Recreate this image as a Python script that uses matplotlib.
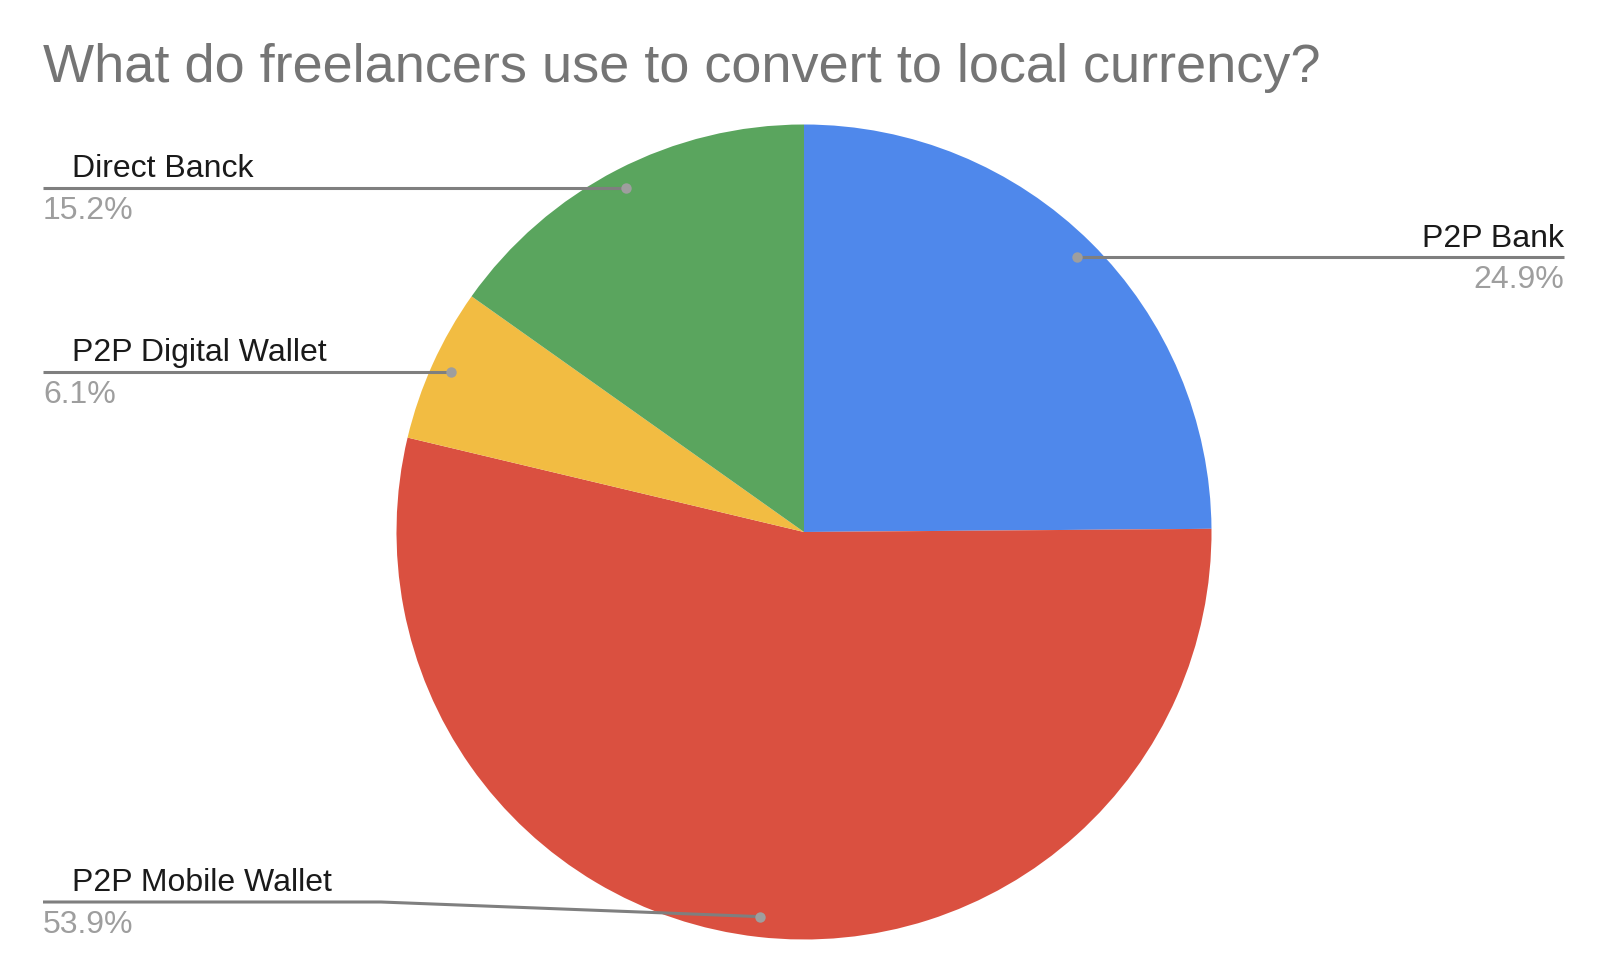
import numpy as np
import matplotlib
matplotlib.use("Agg")
import matplotlib.pyplot as plt

# Survey shares, in clockwise order starting from 12 o'clock
categories = ["P2P Bank", "P2P Mobile Wallet", "P2P Digital Wallet", "Direct Banck"]
shares = [24.9, 53.9, 6.1, 15.2]
pct_labels = ["24.9%", "53.9%", "6.1%", "15.2%"]
colors = ["#4F88EB", "#DA5040", "#F2BC42", "#5AA55E"]

title = "What do freelancers use to convert to local currency?"

W, H = 1606, 980
plt.rcParams["font.family"] = ["Liberation Sans", "DejaVu Sans"]

fig = plt.figure(figsize=(W / 100, H / 100), dpi=100)
ax = fig.add_axes([0, 0, 1, 1])
ax.set_xlim(0, W)
ax.set_ylim(0, H)
ax.set_aspect("equal")
ax.axis("off")

cx, cy, R = 804, H - 532, 407.5
wedges, _ = ax.pie(shares, colors=colors, startangle=90, counterclock=False,
                   center=(cx, cy), radius=R, frame=True,
                   wedgeprops=dict(linewidth=0))
ax.set_xlim(0, W)
ax.set_ylim(0, H)
ax.axis("off")

fig.text(43 / W, 1 - 82 / H, title, fontsize=39, color="#757575",
         ha="left", va="baseline")

# Leader-line anchor points at 95% of the radius along each slice's mid-angle
line_col = "#7f7f7f"
dot_col = "#9e9e9e"
left_x, name_x, right_x = 43, 72, 1564
# label rows (y from top) for slices whose line is not at the anchor height
row_override = {"P2P Mobile Wallet": 902}

for w, name, pct in zip(wedges, categories, pct_labels):
    mid = np.deg2rad((w.theta1 + w.theta2) / 2)
    px = cx + 0.95 * R * np.cos(mid)
    py = cy + 0.95 * R * np.sin(mid)
    on_right = px > cx
    ly = H - row_override[name] if name in row_override else py
    if on_right:
        xs, ys = [px, right_x], [py, ly]
        ax.text(right_x, ly + 10, name, fontsize=23, color="#1a1a1a",
                ha="right", va="baseline")
        ax.text(right_x, ly - 31, pct, fontsize=23, color="#9e9e9e",
                ha="right", va="baseline")
    else:
        if abs(ly - py) > 1:
            xs, ys = [left_x, 381, px], [ly, ly, py]
        else:
            xs, ys = [left_x, px], [ly, py]
        ax.text(name_x, ly + 11, name, fontsize=23, color="#1a1a1a",
                ha="left", va="baseline")
        ax.text(left_x, ly - 31, pct, fontsize=23, color="#9e9e9e",
                ha="left", va="baseline")
    ax.plot(xs, ys, color=line_col, lw=2.2, solid_capstyle="butt", zorder=3)
    ax.plot([px], [py], "o", ms=7.5, color=dot_col, mec="none", zorder=4)

fig.savefig("out.png", dpi=100, facecolor="white")
